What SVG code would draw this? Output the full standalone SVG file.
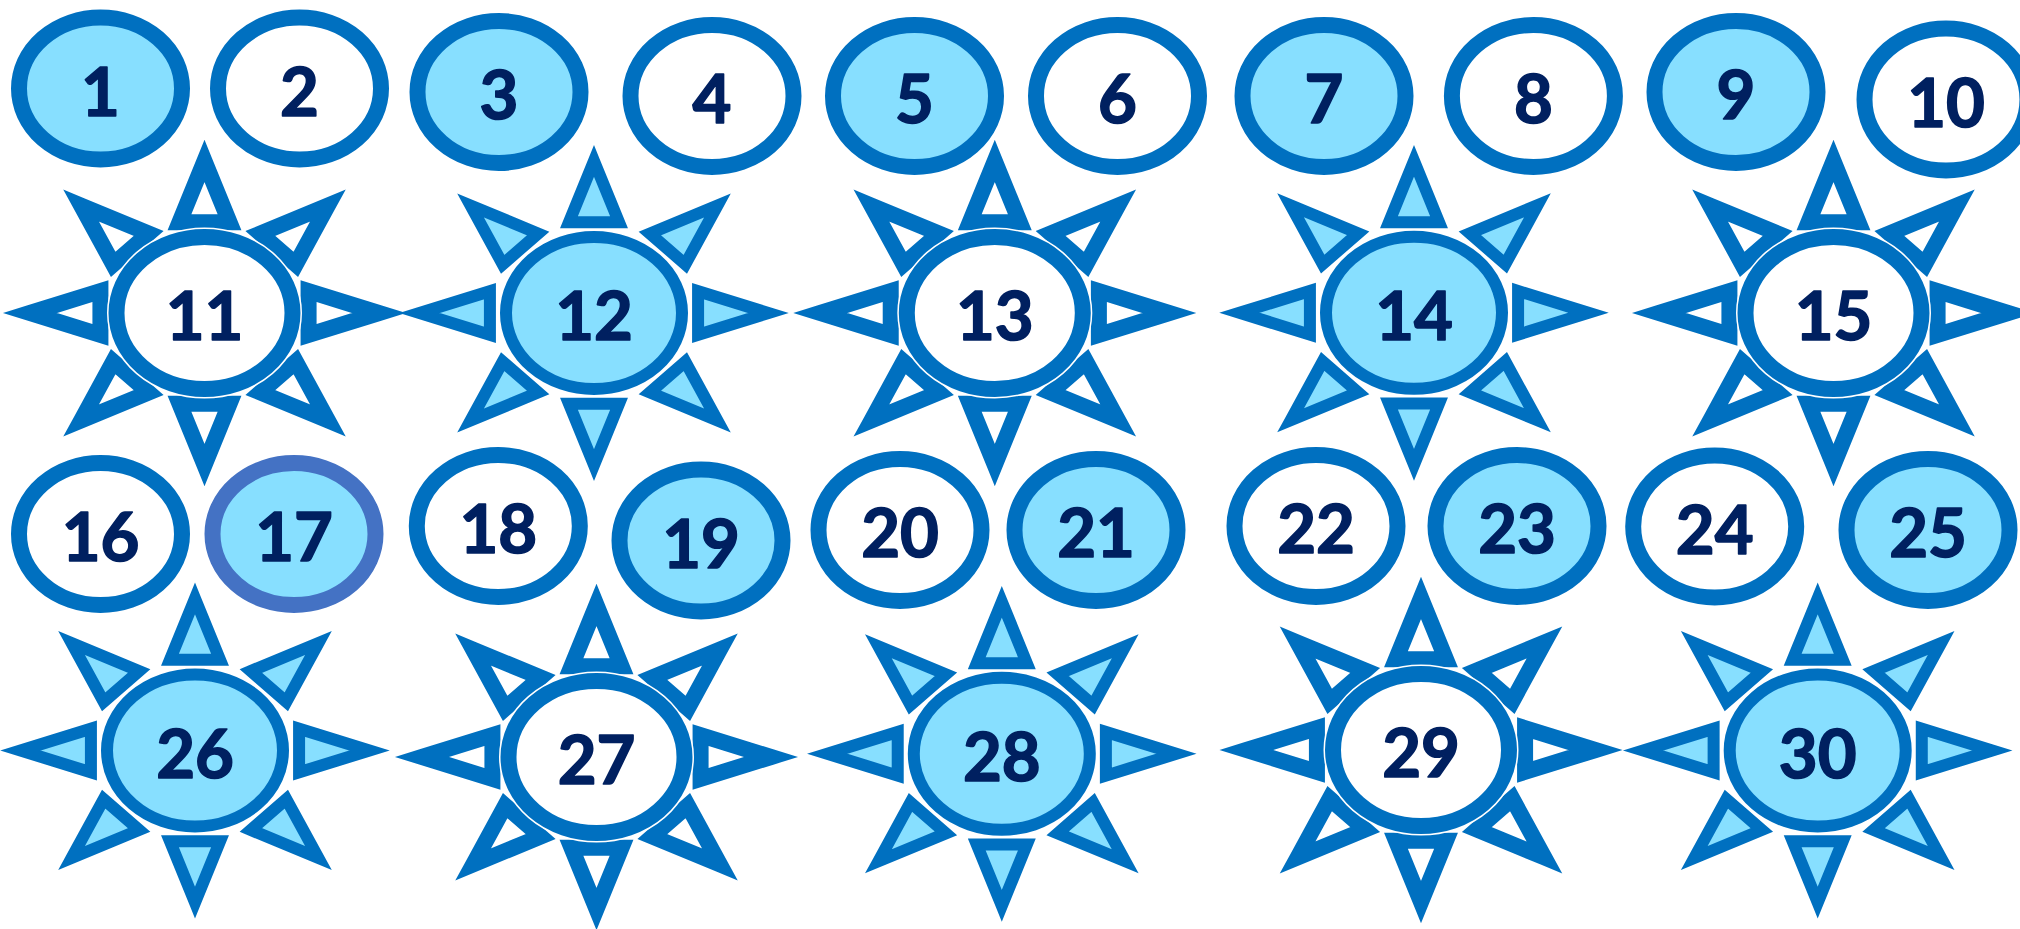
<svg xmlns="http://www.w3.org/2000/svg" width="2020" height="929" viewBox="0 0 2020 929">
<defs>
<style>
.node ellipse { stroke:#0070C0; stroke-width:16; }
.node.alt ellipse { stroke:#4472C4; }
.w { fill:#FFFFFF; }
.b { fill:#87DFFF; }
.sun use, .sun .ring { stroke:#0070C0; stroke-linejoin:miter; stroke-miterlimit:8; }
.sa use, .sa .ring { stroke-width:16; }
.sb use, .sb .ring { stroke-width:12; }
.sun .halo { fill:none; stroke:#FFFFFF; }
.sa .halo { stroke-width:19; }
.sb .halo { stroke-width:15; }
text { font-family:Lato, "Open Sans", "Liberation Sans", sans-serif; font-weight:700; font-size:67px; fill:#002060; stroke:#002060; stroke-width:1.6; stroke-linejoin:round; text-anchor:middle; }
</style>
<path id="rays" d="M174.5,0 L104.08,21.81 L104.08,-21.81 Z M123.39,-107.48 L91.3,-48.68 L55.89,-79.53 Z M0,-152 L25.04,-90.66 L-25.04,-90.66 Z M-123.39,-107.48 L-55.89,-79.53 L-91.3,-48.68 Z M-174.5,0 L-104.08,-21.81 L-104.08,21.81 Z M-123.39,107.48 L-91.3,48.68 L-55.89,79.53 Z M0,152 L-25.04,90.66 L25.04,90.66 Z M123.39,107.48 L55.89,79.53 L91.3,48.68 Z"/>
</defs>
<rect width="2020" height="929" fill="#FFFFFF"/>

<g id="node-1" class="node b"><ellipse cx="100.5" cy="88.5" rx="81.5" ry="71"/><text x="100.5" y="115.5">1</text></g>
<g id="node-2" class="node w"><ellipse cx="299.5" cy="88.5" rx="81.5" ry="71"/><text x="299.5" y="115.5">2</text></g>
<g id="node-3" class="node b"><ellipse cx="499" cy="92" rx="81.5" ry="71"/><text x="499" y="119">3</text></g>
<g id="node-4" class="node w"><ellipse cx="712" cy="96" rx="81.5" ry="71"/><text x="712" y="123">4</text></g>
<g id="node-5" class="node b"><ellipse cx="914.5" cy="96" rx="81.5" ry="71"/><text x="914.5" y="123">5</text></g>
<g id="node-6" class="node w"><ellipse cx="1117.5" cy="96" rx="81.5" ry="71"/><text x="1117.5" y="123">6</text></g>
<g id="node-7" class="node b"><ellipse cx="1324" cy="96" rx="81.5" ry="71"/><text x="1324" y="123">7</text></g>
<g id="node-8" class="node w"><ellipse cx="1533.4" cy="96" rx="81.5" ry="71"/><text x="1533.4" y="123">8</text></g>
<g id="node-9" class="node b"><ellipse cx="1736" cy="92" rx="81.5" ry="71"/><text x="1736" y="119">9</text></g>
<g id="node-10" class="node w"><ellipse cx="1946" cy="99.5" rx="81.5" ry="71"/><text x="1946" y="126.5">10</text></g>

<g id="node-11" class="sun sa w" transform="translate(204.5,313)"><use href="#rays"/><ellipse class="halo" rx="88" ry="76"/><ellipse class="ring" rx="88" ry="76"/><text y="27">11</text></g>
<g id="node-12" class="sun sb b" transform="translate(594,313)"><use href="#rays"/><ellipse class="halo" rx="88" ry="76"/><ellipse class="ring" rx="88" ry="76"/><text y="27">12</text></g>
<g id="node-13" class="sun sa w" transform="translate(994.8,313)"><use href="#rays"/><ellipse class="halo" rx="88" ry="76"/><ellipse class="ring" rx="88" ry="76"/><text y="27">13</text></g>
<g id="node-14" class="sun sb b" transform="translate(1414,312.8)"><use href="#rays"/><ellipse class="halo" rx="88" ry="76"/><ellipse class="ring" rx="88" ry="76"/><text y="27">14</text></g>
<g id="node-15" class="sun sa w" transform="translate(1833.5,313)"><use href="#rays"/><ellipse class="halo" rx="88" ry="76"/><ellipse class="ring" rx="88" ry="76"/><text y="27">15</text></g>

<g id="node-16" class="node w"><ellipse cx="100.5" cy="534" rx="81.5" ry="71"/><text x="100.5" y="561">16</text></g>
<g id="node-17" class="node alt b"><ellipse cx="294" cy="534" rx="81.5" ry="71"/><text x="294" y="561">17</text></g>
<g id="node-18" class="node w"><ellipse cx="498.3" cy="526" rx="81.5" ry="71"/><text x="498.3" y="553">18</text></g>
<g id="node-19" class="node b"><ellipse cx="701" cy="540.5" rx="81.5" ry="71"/><text x="701" y="567.5">19</text></g>
<g id="node-20" class="node w"><ellipse cx="900" cy="530" rx="81.5" ry="71"/><text x="900" y="557">20</text></g>
<g id="node-21" class="node b"><ellipse cx="1096" cy="530" rx="81.5" ry="71"/><text x="1096" y="557">21</text></g>
<g id="node-22" class="node w"><ellipse cx="1316" cy="526" rx="81.5" ry="71"/><text x="1316" y="553">22</text></g>
<g id="node-23" class="node b"><ellipse cx="1517" cy="526" rx="81.5" ry="71"/><text x="1517" y="553">23</text></g>
<g id="node-24" class="node w"><ellipse cx="1714.7" cy="526.5" rx="81.5" ry="71"/><text x="1714.7" y="553.5">24</text></g>
<g id="node-25" class="node b"><ellipse cx="1928" cy="530" rx="81.5" ry="71"/><text x="1928" y="557">25</text></g>

<g id="node-26" class="sun sb b" transform="translate(195,750.5)"><use href="#rays"/><ellipse class="halo" rx="88" ry="76"/><ellipse class="ring" rx="88" ry="76"/><text y="27">26</text></g>
<g id="node-27" class="sun sa w" transform="translate(596.5,757)"><use href="#rays"/><ellipse class="halo" rx="88" ry="76"/><ellipse class="ring" rx="88" ry="76"/><text y="27">27</text></g>
<g id="node-28" class="sun sb b" transform="translate(1001.8,753.8)"><use href="#rays"/><ellipse class="halo" rx="88" ry="76"/><ellipse class="ring" rx="88" ry="76"/><text y="27">28</text></g>
<g id="node-29" class="sun sa w" transform="translate(1421,750)"><use href="#rays"/><ellipse class="halo" rx="88" ry="76"/><ellipse class="ring" rx="88" ry="76"/><text y="27">29</text></g>
<g id="node-30" class="sun sb b" transform="translate(1817.7,750.5)"><use href="#rays"/><ellipse class="halo" rx="88" ry="76"/><ellipse class="ring" rx="88" ry="76"/><text y="27">30</text></g>
</svg>
